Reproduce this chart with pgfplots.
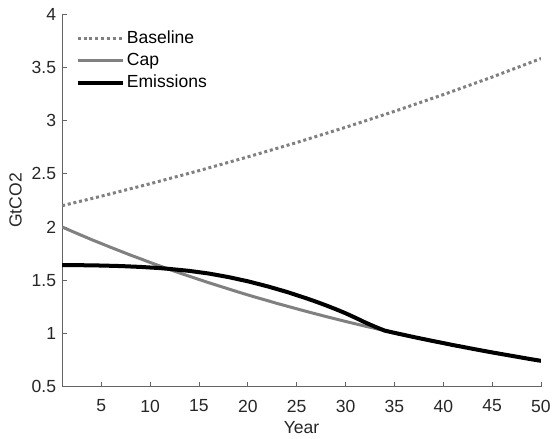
\documentclass[border=0pt]{standalone}
\usepackage{pgfplots}
\pgfplotsset{compat=1.18}
\usepackage{fontspec}
\setmainfont{Liberation Sans}
\definecolor{axgray}{RGB}{100,100,100}
\definecolor{lgray}{RGB}{128,128,128}
\begin{document}
\fontsize{17.5bp}{21bp}\selectfont
\begin{tikzpicture}
\begin{axis}[
  name=ax,
  scale only axis,
  width=478bp, height=372bp,
  xmin=1, xmax=50, ymin=0.5, ymax=4,
  xtick={5,10,...,50},
  ytick={0.5,1,1.5,2,2.5,3,3.5,4},
  axis x line*=bottom, axis y line*=left,
  axis line style={axgray, line width=0.8bp, -},
  tick style={axgray, line width=0.8bp},
  tick align=inside,
  major tick length=5bp,
  /pgf/number format/assume math mode=true,
  ticklabel style={font=\fontsize{17.5bp}{21bp}\selectfont, text=black!85},
  xticklabel style={yshift=-7bp},
  label style={font=\fontsize{17.5bp}{21bp}\selectfont, text=black!85},
  xlabel={Year}, ylabel={GtCO2},
  xlabel style={yshift=3bp},
  ylabel style={yshift=-2bp},
  legend style={draw=none, fill=none, at={(0.022,0.985)}, anchor=north west,
    xshift=2bp, yshift=-8bp,
    font=\fontsize{17.5bp}{21bp}\selectfont, row sep=3bp, inner sep=1bp,
    nodes={inner sep=2bp}},
  legend cell align=left,
  legend image code/.code={\draw[#1] (0bp,0bp) -- (45bp,0bp);},
]
\addplot[lgray, line width=3bp, dash pattern=on 3bp off 2.8bp] coordinates {
(1,2.200) (5,2.289) (10,2.406) (15,2.529) (20,2.658) (25,2.793) (30,2.936) (35,3.086) (40,3.243) (45,3.408) (50,3.582)};
\addlegendentry{Baseline}
\addplot[lgray, line width=3bp] coordinates {
(1,2.000) (2,1.960) (3,1.921) (4,1.882) (5,1.845) (6,1.808) (7,1.772) (8,1.736) (9,1.702) (10,1.667)
(11,1.634) (12,1.601) (13,1.569) (14,1.538) (15,1.507) (16,1.477) (17,1.448) (18,1.419) (19,1.390) (20,1.362)
(21,1.335) (22,1.309) (23,1.282) (24,1.257) (25,1.232) (26,1.207) (27,1.183) (28,1.159) (29,1.136) (30,1.113)
(31,1.091) (32,1.069) (33,1.048) (34,1.027) (35,1.006) (36,0.986) (37,0.966) (38,0.947) (39,0.928) (40,0.910)
(41,0.891) (42,0.874) (43,0.856) (44,0.839) (45,0.822) (46,0.806) (47,0.790) (48,0.774) (49,0.758) (50,0.743)};
\addlegendentry{Cap}
\addplot[black, line width=4bp] coordinates {
(1,1.642) (3,1.641) (5,1.638) (7,1.633) (9,1.625) (11,1.614) (12,1.606) (14,1.588) (16,1.563) (18,1.530)
(20,1.490) (22,1.443) (24,1.390) (26,1.330) (27,1.298) (28,1.264) (29,1.228) (30,1.190) (31,1.148) (32,1.104)
(33,1.064) (34,1.027) (35,1.006) (36,0.986) (37,0.966) (38,0.947) (39,0.928) (40,0.910)
(41,0.891) (42,0.874) (43,0.856) (44,0.839) (45,0.822) (46,0.806) (47,0.790) (48,0.774) (49,0.758) (50,0.743)};
\addlegendentry{Emissions}
\end{axis}
\pgfresetboundingbox
\path (ax.south west) ++(-62bp,-52bp) coordinate (bl);
\path (ax.north east) ++(12bp,14bp) coordinate (tr);
\path (bl) rectangle (tr);
\end{tikzpicture}
\end{document}
